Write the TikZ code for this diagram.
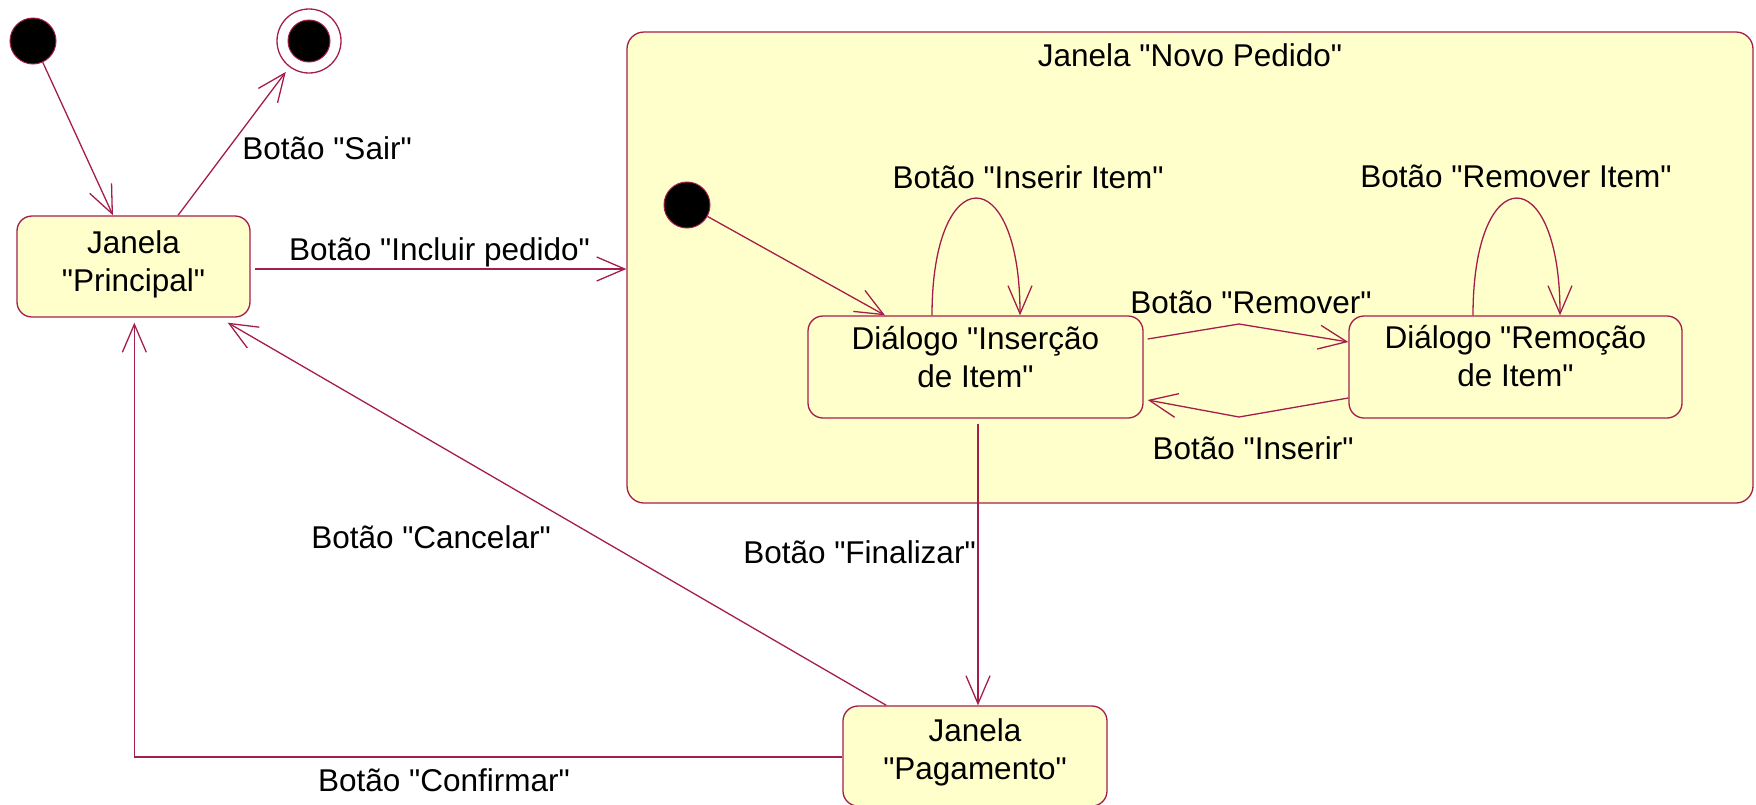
\documentclass[tikz,border=0pt]{standalone}
\usepackage{fontspec}
\setmainfont{Liberation Sans}[Ligatures=TeXOff]
\usetikzlibrary{arrows.meta,calc}
\definecolor{uml}{RGB}{165,30,75}
\definecolor{statefill}{RGB}{255,255,204}
\begin{document}
\begin{tikzpicture}[x=1pt,y=-1pt,
  font=\fontsize{31.5}{38}\selectfont,
  tr/.style={draw=uml, line width=1.3pt, -{Straight Barb[length=28pt,width=24pt]}},
  state/.style={rectangle, draw=uml, fill=statefill, rounded corners=15pt, line width=1.3pt, inner sep=0pt},
  initst/.style={circle, draw=uml, fill=black, minimum size=46pt, inner sep=0pt, line width=1pt},
  lbl/.style={anchor=base, inner sep=0pt},
  boxtxt/.style={align=center, inner sep=0pt}]
\useasboundingbox (0,0) rectangle (1756,804);
\clip (0,0) rectangle (1756,804);

% composite state
\node[state, rounded corners=17pt, minimum width=1126pt, minimum height=471pt] (comp) at (1190,267.5) {};
\node[lbl] (compT) at (1190,66) {Janela "Novo Pedido"};

% pseudo states
\node[initst] (init) at (33,41) {};
\node[circle, draw=uml, fill=white, minimum size=64pt, inner sep=0pt, line width=1.3pt,
  path picture={\filldraw[fill=black, draw=uml, line width=1pt] (path picture bounding box.center) circle[radius=21pt];}] (final) at (309,41) {};
\node[initst] (init2) at (687,205) {};

% states
\node[state, minimum width=233pt, minimum height=101pt,
  label={[boxtxt,yshift=2pt]center:Janela\\"Principal"}] (principal) at (133.5,266.5) {};
\node[state, minimum width=335pt, minimum height=102pt,
  label={[boxtxt,yshift=9.5pt]center:Diálogo "Inserção\\de Item"}] (ins) at (975.5,367) {};
\node[state, minimum width=333pt, minimum height=102pt,
  label={[boxtxt,yshift=11pt]center:Diálogo "Remoção\\de Item"}] (rem) at (1515.5,367) {};
\node[state, minimum width=264pt, minimum height=100pt,
  label={[boxtxt,yshift=4pt]center:Janela\\"Pagamento"}] (pag) at (975,756) {};

\coordinate (remBend) at (1239,324);
\coordinate (insBend) at (1239,417);

% transitions
\draw[tr] (init) -- ([xshift=-20.5pt]principal.north);
\draw[tr, shorten >=6pt] ([xshift=44.5pt]principal.north) -- (final);
\draw[tr] ([xshift=4pt,yshift=-2.5pt]principal.east) -- ([yshift=-1.5pt]comp.west);
\draw[tr] (init2) -- ([xshift=-90.5pt]ins.north);
\draw[tr] ([xshift=-43.5pt]ins.north) .. controls +(0,-156) and +(0,-156) .. ([xshift=44.5pt]ins.north);
\draw[tr] ([xshift=-42.5pt]rem.north) .. controls +(0,-156) and +(0,-156) .. ([xshift=44.5pt]rem.north);
\draw[tr] ([xshift=4pt,yshift=28pt]ins.east) -- (remBend) -- ([yshift=25pt]rem.west);
\draw[tr] ([yshift=-31pt]rem.west) -- (insBend) -- ([xshift=4pt,yshift=-33pt]ins.east);
\draw[tr] ([xshift=2.5pt,yshift=-5pt]ins.south) -- ([xshift=3pt]pag.north);
\draw[tr] ([xshift=44pt]pag.north west) -- ([xshift=-23pt,yshift=-5pt]principal.south east);
\draw[tr] ([yshift=-1pt]pag.west) -| ([xshift=118pt,yshift=-5pt]principal.south west);

% transition labels
\node[lbl] (lSair) at (327,159) {Botão "Sair"};
\node[lbl] (lIncluir) at (439.5,260) {Botão "Incluir pedido"};
\node[lbl] (lInsItem) at (1028,188) {Botão "Inserir Item"};
\node[lbl] (lRemItem) at (1516,187) {Botão "Remover Item"};
\node[lbl] (lRemover) at (1251,313) {Botão "Remover"};
\node[lbl] (lInserir) at (1253,459) {Botão "Inserir"};
\node[lbl] (lFinal) at (859.5,563) {Botão "Finalizar"};
\node[lbl] (lCancel) at (431,548) {Botão "Cancelar"};
\node[lbl] (lConf) at (444,791) {Botão "Confirmar"};
\end{tikzpicture}
\end{document}
